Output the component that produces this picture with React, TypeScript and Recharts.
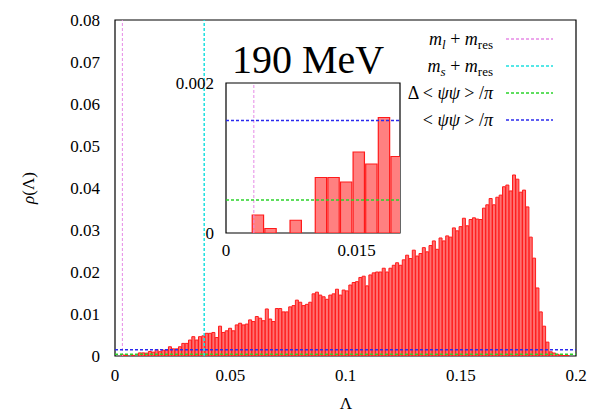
import React from "react"
import { BarChart, Bar, XAxis, YAxis, ReferenceLine, ReferenceArea } from "recharts"

const BIN_COUNT = 138
const X_MAX = 0.2
const BIN_WIDTH = X_MAX / BIN_COUNT

// rho(Lambda) for each bin (bin 0 starts at 0)
const RHO = [
  0, 0, 0.00024, 0.00006, 0, 0.00017, 0, 0.00074, 0.00074, 0.00068,
  0.00108, 0.00092, 0.00154, 0.00102, 0.0014, 0.0014, 0.0022, 0.0017, 0.0017, 0.0022,
  0.003, 0.003, 0.0038, 0.0046, 0.0038, 0.0046, 0.0048, 0.0054, 0.0054, 0.0056,
  0.0044, 0.0071, 0.0056, 0.006, 0.0066, 0.006, 0.0074, 0.0078, 0.0074, 0.0076,
  0.0086, 0.0082, 0.0094, 0.009, 0.0084, 0.0112, 0.0088, 0.0082, 0.0113, 0.0113,
  0.0105, 0.0105, 0.0117, 0.012, 0.0133, 0.0128, 0.012, 0.0123, 0.0128, 0.0148,
  0.0152, 0.0145, 0.0141, 0.0135, 0.0145, 0.0148, 0.0159, 0.0145, 0.0157, 0.0155,
  0.0169, 0.0175, 0.0177, 0.0187, 0.019, 0.0167, 0.0193, 0.0198, 0.02, 0.02,
  0.0209, 0.02, 0.0209, 0.0216, 0.0222, 0.0216, 0.0229, 0.024, 0.0232, 0.0252,
  0.0238, 0.0244, 0.0258, 0.0248, 0.0263, 0.0274, 0.0254, 0.0281, 0.0274, 0.0286,
  0.0283, 0.0305, 0.0298, 0.0308, 0.0328, 0.031, 0.0325, 0.0329, 0.0326, 0.0325,
  0.0352, 0.036, 0.0375, 0.036, 0.0378, 0.0383, 0.0403, 0.0407, 0.0393, 0.0431,
  0.0421, 0.039, 0.0395, 0.0355, 0.0283, 0.0233, 0.0162, 0.0105, 0.0071, 0.0033,
  0.001, 0.0007, 0.0004, 0.0002, 0.0001, 0.0001, 0, 0,
]

const X_TICKS = [0, 0.05, 0.1, 0.15, 0.2]
const Y_TICKS = [0, 0.01, 0.02, 0.03, 0.04, 0.05, 0.06, 0.07, 0.08]
const Y_MAX = 0.08

const INSET_BINS = 14
const INSET_X_MAX = 0.02
const INSET_Y_MAX = 0.002
const INSET_X_TICKS = [0, 0.005, 0.01, 0.015]
const INSET_X_LABELS = [0, 0.015]
const INSET_Y_TICKS = [0, 0.0005, 0.001, 0.0015, 0.002]
const INSET_Y_LABELS = [0, 0.002]

// reference lines
const M_L = 0.0032
const M_S = 0.0387
const DELTA_PSI = 0.00044
const PSI = 0.0015

const PINK = "#e68ae6"
const CYAN = "#1ee0e0"
const GREEN = "#2ad42a"
const BLUE = "#2a2aee"

const serif = "Liberation Serif, DejaVu Serif, serif"
const tickLine = { stroke: "#000", strokeWidth: 1 }
const blank = () => ""

const binData = RHO.map((rho, i) => ({ x: (i + 0.5) * BIN_WIDTH, rho }))
const insetData = binData.slice(0, INSET_BINS)

const INSET_PLOT_W = 174
const insetBarSize = (BIN_WIDTH / INSET_X_MAX) * INSET_PLOT_W

// tick labels in the serif face (Recharts drops fontFamily from tick props)
function SerifTick(props: any) {
  const { x, y, payload, labels, vertical } = props
  const v = payload.value
  const show = labels ? labels.includes(v) : true
  return (
    <text
      x={x} y={y} dy={vertical ? 6 : 12}
      textAnchor={vertical ? "end" : "middle"}
      fontFamily={serif} fontSize={17} fill="#000"
    >
      {show ? String(v) : ""}
    </text>
  )
}

function MainChart() {
  return (
    <BarChart
      width={593}
      height={409}
      data={binData}
      margin={{ top: 20, right: 17, bottom: 23, left: 55 }}
      barCategoryGap={0}
      barGap={0}
    >
      <XAxis
        xAxisId="num" dataKey="x" type="number" domain={[0, X_MAX]} allowDataOverflow
        ticks={X_TICKS} interval={0} tick={(p: any) => <SerifTick {...p} />}
        tickLine={false} axisLine={false} height={30} tickSize={5} tickMargin={8}
      />
      <XAxis
        xAxisId="top" orientation="top" dataKey="x" type="number" domain={[0, X_MAX]} allowDataOverflow
        ticks={X_TICKS} interval={0} tickFormatter={blank} mirror height={0}
        tickLine={tickLine} axisLine={false} tickSize={5}
      />
      <XAxis
        xAxisId="numIn" dataKey="x" type="number" domain={[0, X_MAX]} allowDataOverflow
        ticks={X_TICKS} interval={0} tickFormatter={blank} mirror height={0}
        tickLine={tickLine} axisLine={false} tickSize={5}
      />
      <XAxis xAxisId="bins" dataKey="x" type="category" hide height={0} />
      <YAxis
        yAxisId="y" domain={[0, Y_MAX]} allowDataOverflow ticks={Y_TICKS} interval={0}
        tick={(p: any) => <SerifTick {...p} vertical />} tickLine={false}
        axisLine={false} width={60} tickSize={5} tickMargin={10}
      />
      <YAxis
        yAxisId="yR" orientation="right" domain={[0, Y_MAX]} ticks={Y_TICKS} interval={0} mirror
        tickFormatter={blank} tickLine={tickLine} axisLine={false} tickSize={5}
      />
      <YAxis
        yAxisId="yIn" domain={[0, Y_MAX]} ticks={Y_TICKS} interval={0} mirror
        tickFormatter={blank} tickLine={tickLine} axisLine={false} tickSize={5}
      />
      <Bar
        xAxisId="bins" yAxisId="y" dataKey="rho" fill="#ff7070" stroke="#ff1a1a"
        strokeWidth={1} isAnimationActive={false}
      />
      <ReferenceLine xAxisId="num" yAxisId="y" x={M_L} stroke={PINK} strokeDasharray="3 2" />
      <ReferenceLine xAxisId="num" yAxisId="y" x={M_S} stroke={CYAN} strokeDasharray="3 2" strokeWidth={1.5} />
      <ReferenceLine xAxisId="num" yAxisId="y" y={DELTA_PSI} stroke={GREEN} strokeDasharray="3 2" strokeWidth={1.5} />
      <ReferenceLine xAxisId="num" yAxisId="y" y={PSI} stroke={BLUE} strokeDasharray="3 2" strokeWidth={1.5} />
      <ReferenceArea
        xAxisId="num" yAxisId="y" x1={0} x2={X_MAX} y1={0} y2={Y_MAX}
        fill="none" fillOpacity={0} stroke="#000" strokeWidth={1.2}
      />
    </BarChart>
  )
}

function InsetChart() {
  return (
    <BarChart
      width={240}
      height={195}
      data={insetData}
      margin={{ top: 10, right: 6, bottom: 10, left: 10 }}
      barGap={0}
    >
      <XAxis
        xAxisId="ix" dataKey="x" type="number" domain={[0, INSET_X_MAX]} allowDataOverflow
        ticks={INSET_X_TICKS} interval={0}
        tick={(p: any) => <SerifTick {...p} labels={INSET_X_LABELS} />}
        tickLine={false} axisLine={false} height={25} tickSize={5} tickMargin={6}
      />
      <XAxis
        xAxisId="ixTop" orientation="top" dataKey="x" type="number" domain={[0, INSET_X_MAX]} allowDataOverflow
        ticks={INSET_X_TICKS} interval={0} tickFormatter={blank} mirror height={0}
        tickLine={tickLine} axisLine={false} tickSize={5}
      />
      <XAxis
        xAxisId="ixIn" dataKey="x" type="number" domain={[0, INSET_X_MAX]} allowDataOverflow
        ticks={INSET_X_TICKS} interval={0} tickFormatter={blank} mirror height={0}
        tickLine={tickLine} axisLine={false} tickSize={5}
      />
      <YAxis
        yAxisId="iy" domain={[0, INSET_Y_MAX]} allowDataOverflow ticks={INSET_Y_TICKS} interval={0}
        tick={(p: any) => <SerifTick {...p} labels={INSET_Y_LABELS} vertical />}
        tickLine={false} axisLine={false} width={50} tickSize={5} tickMargin={7}
      />
      <YAxis
        yAxisId="iyR" orientation="right" domain={[0, INSET_Y_MAX]} ticks={INSET_Y_TICKS} interval={0} mirror
        tickFormatter={blank} tickLine={tickLine} axisLine={false} tickSize={5}
      />
      <YAxis
        yAxisId="iyIn" domain={[0, INSET_Y_MAX]} ticks={INSET_Y_TICKS} interval={0} mirror
        tickFormatter={blank} tickLine={tickLine} axisLine={false} tickSize={5}
      />
      <Bar
        xAxisId="ix" yAxisId="iy" dataKey="rho" fill="#ff8080" stroke="#ff1a1a"
        strokeWidth={1.2} barSize={insetBarSize} isAnimationActive={false}
      />
      <ReferenceLine xAxisId="ix" yAxisId="iy" x={M_L} stroke={PINK} strokeDasharray="3 2" />
      <ReferenceLine xAxisId="ix" yAxisId="iy" y={DELTA_PSI} stroke={GREEN} strokeDasharray="3 2" strokeWidth={1.3} />
      <ReferenceLine xAxisId="ix" yAxisId="iy" y={PSI} stroke={BLUE} strokeDasharray="3 2" strokeWidth={1.3} />
      <ReferenceArea
        xAxisId="ix" yAxisId="iy" x1={0} x2={INSET_X_MAX} y1={0} y2={INSET_Y_MAX}
        fill="none" fillOpacity={0} stroke="#000" strokeWidth={1.2}
      />
    </BarChart>
  )
}

const LEGEND_COLORS = [PINK, CYAN, GREEN, BLUE]
const LEGEND_ROWS = [39, 66, 93, 120]

function LegendLabel({ row }: { row: number }) {
  const sub = { fontSize: 13 }
  if (row === 0)
    return (
      <>
        <tspan fontStyle="italic">m</tspan>
        <tspan fontStyle="italic" dy={4} style={sub}>l</tspan>
        <tspan dy={-4}> + </tspan>
        <tspan fontStyle="italic">m</tspan>
        <tspan dy={4} style={sub}>res</tspan>
      </>
    )
  if (row === 1)
    return (
      <>
        <tspan fontStyle="italic">m</tspan>
        <tspan fontStyle="italic" dy={4} style={sub}>s</tspan>
        <tspan dy={-4}> + </tspan>
        <tspan fontStyle="italic">m</tspan>
        <tspan dy={4} style={sub}>res</tspan>
      </>
    )
  return (
    <>
      {row === 2 ? <tspan>{"Δ "}</tspan> : null}
      <tspan>{"< "}</tspan>
      <tspan fontStyle="italic">ψψ</tspan>
      <tspan>{" > /"}</tspan>
      <tspan fontStyle="italic">π</tspan>
    </>
  )
}

function Overlay() {
  return (
    <svg width={593} height={409} style={{ position: "absolute", left: 0, top: 0 }} fontFamily={serif}>
      <text x={232} y={73} fontSize={40} fill="#000">190 MeV</text>
      <text transform="translate(34,188) rotate(-90)" textAnchor="middle" fontSize={17} fill="#000">
        <tspan fontStyle="italic">ρ</tspan>
        <tspan>(Λ)</tspan>
      </text>
      <text x={346} y={409} textAnchor="middle" fontSize={17} fill="#000">Λ</text>
      {LEGEND_ROWS.map((y, i) => (
        <g key={i}>
          <text x={493} y={y + 6} textAnchor="end" fontSize={18} fill="#000">
            <LegendLabel row={i} />
          </text>
          <line x1={506} x2={553} y1={y} y2={y} stroke={LEGEND_COLORS[i]} strokeWidth={1.3} strokeDasharray="3 2" />
        </g>
      ))}
    </svg>
  )
}

export default function App() {
  return (
    <div
      style={{
        position: "absolute", left: 0, top: 0, width: 593, height: 409,
        background: "#fff", fontFamily: serif,
      }}
    >
      <div style={{ position: "absolute", left: 0, top: 0 }}>
        <MainChart />
      </div>
      <div style={{ position: "absolute", left: 166, top: 73 }}>
        <InsetChart />
      </div>
      <Overlay />
    </div>
  )
}
